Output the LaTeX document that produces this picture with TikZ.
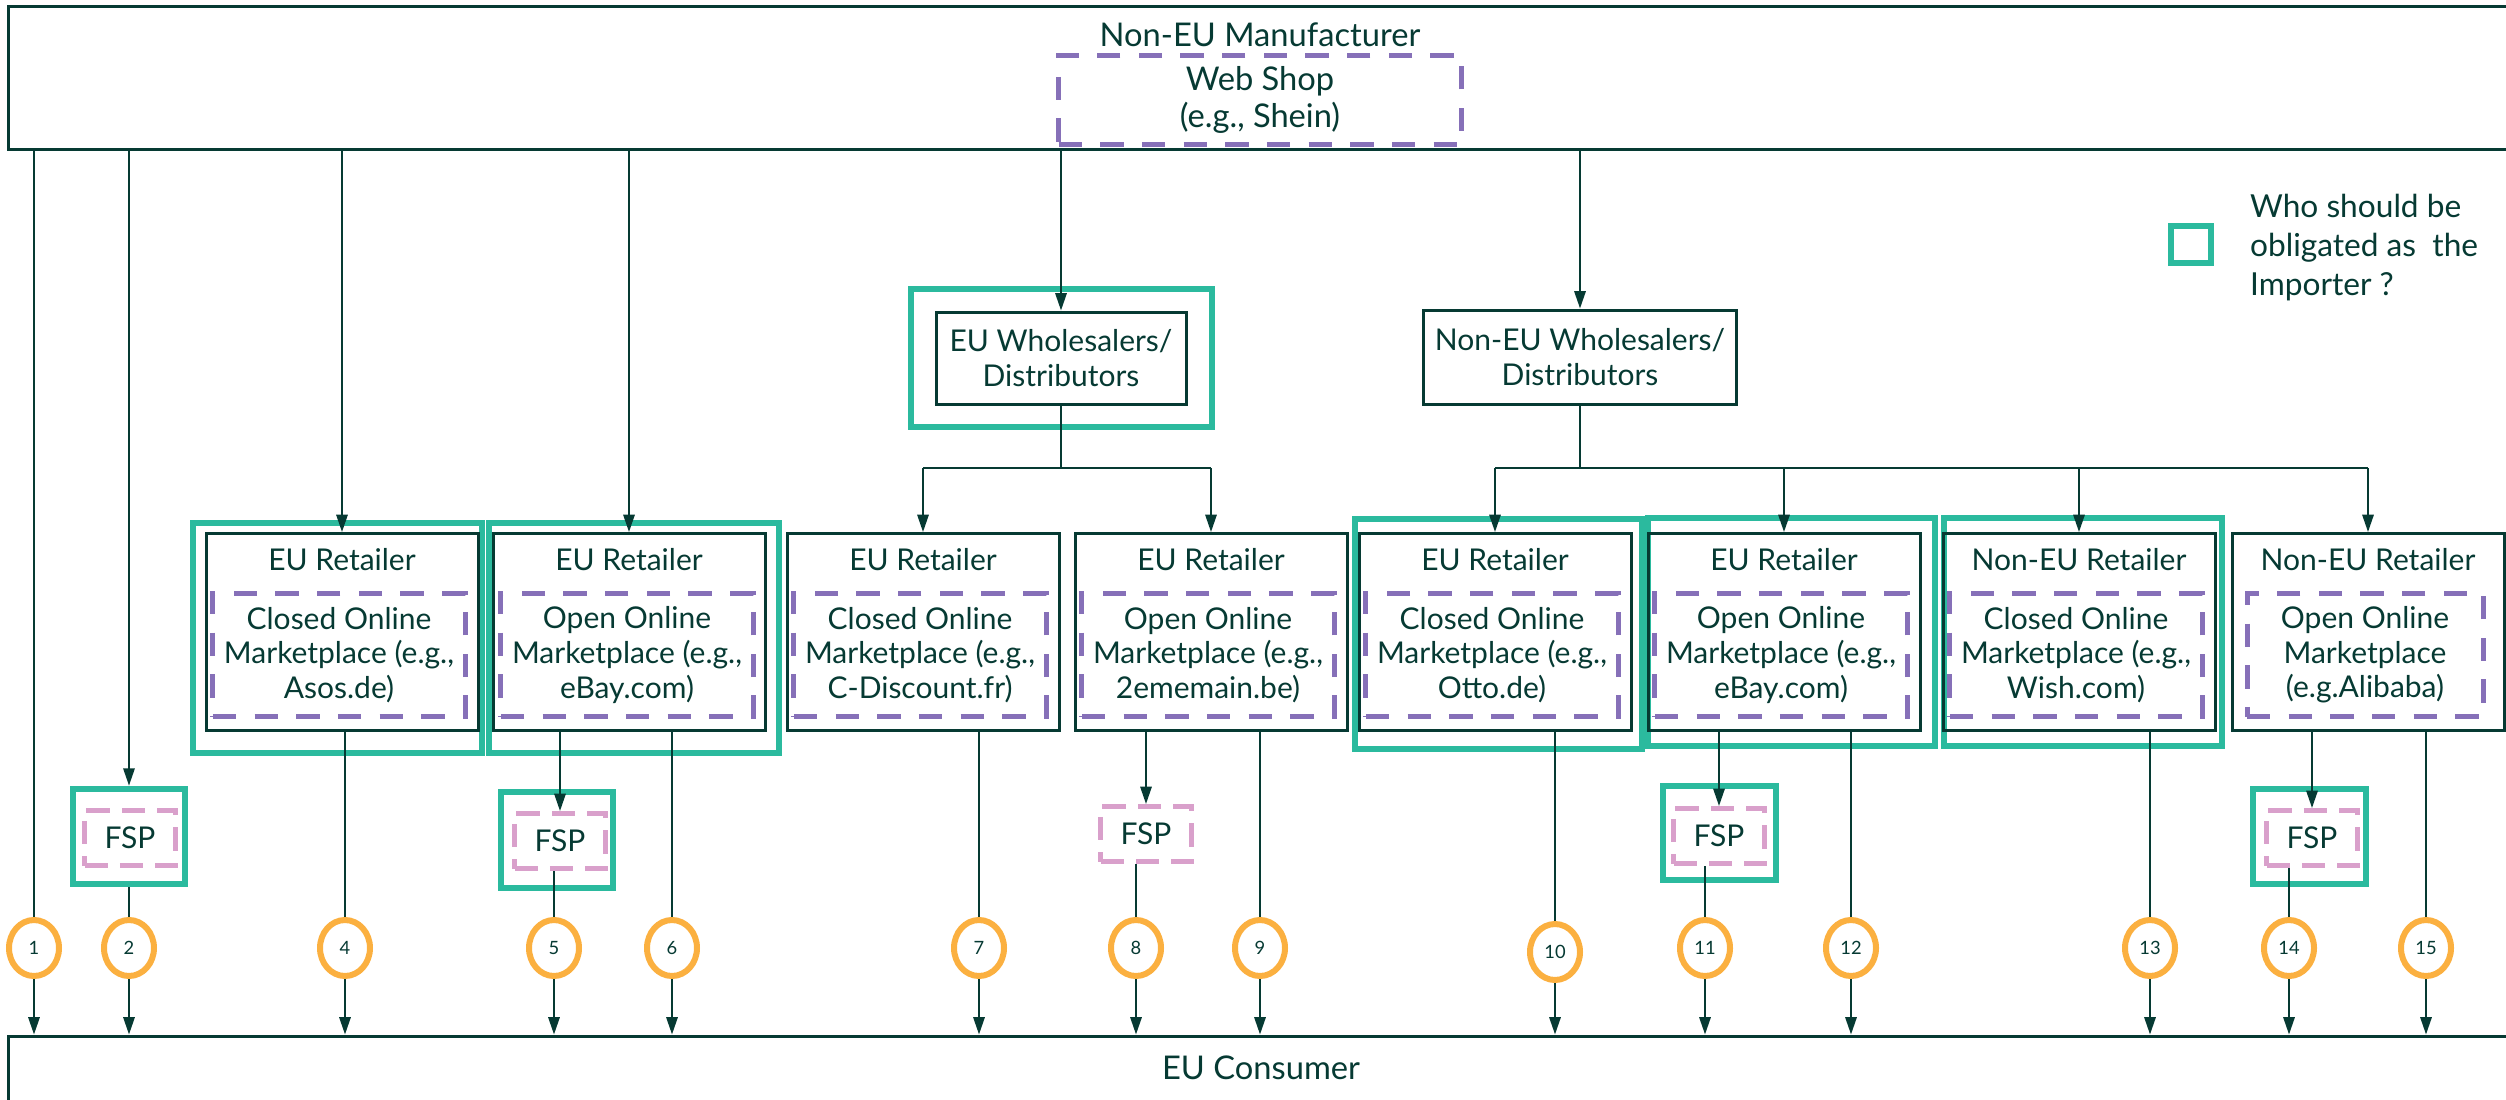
\documentclass[tikz,border=0pt]{standalone}
\usepackage{fontspec}
\setmainfont{Lato}
\usetikzlibrary{arrows.meta,shapes.geometric}

\definecolor{dkteal}{HTML}{063A33}
\definecolor{impgreen}{HTML}{2BBA9E}
\definecolor{mpurple}{HTML}{8670B8}
\definecolor{fpink}{HTML}{D9A0CB}
\definecolor{norange}{HTML}{FBB040}

\tikzset{every picture/.style={line width=0.6pt}}
\tikzset{
  arr/.style={-{Triangle[length=5.2pt,width=3.4pt]}},
  frame/.style={draw=dkteal, line width=0.9pt},
  retail/.style={draw=dkteal, line width=0.9pt, minimum width=81.6pt, minimum height=59.1pt},
  box/.style={draw=dkteal, line width=0.9pt, align=center, text=dkteal},
  txt/.style={text=dkteal, align=center},
  bigtxt/.style={txt, font=\fontsize{9.8}{11.1}\selectfont},
  mkt/.style={draw=mpurple, line width=1.5pt, dash pattern=on 7pt off 5.5pt, align=center, text=dkteal},
  mktbox/.style={mkt, minimum width=70.8pt, minimum height=36.9pt},
  fsp/.style={draw=fpink, line width=1.5pt, dash pattern=on 7pt off 3.6pt, text=dkteal, minimum width=27.3pt, minimum height=16.5pt, inner sep=0pt},
  imp/.style={draw=impgreen, line width=2pt, inner sep=0pt},
  num/.style={ellipse, draw=norange, fill=white, line width=1.8pt, minimum width=15pt, minimum height=16.8pt, inner sep=0pt, text=dkteal, font=\fontsize{5.5}{6}\selectfont}
}

\begin{document}
\begin{tikzpicture}[x=0.3pt,y=0.3pt,yscale=-1,xscale=1,draw=dkteal,font=\fontsize{9}{10.4}\selectfont]
\useasboundingbox (0,0) rectangle (2506,1100);
\clip (0,0) rectangle (2506,1100);

%Shape: Rectangle [manufacturer]
\node[frame, minimum width=756.6pt, minimum height=42.9pt] (mfr) at (1269,77.5) {};
% Text Node
\node[bigtxt] (mfr-t) at (1260,35) {Non-EU Manufacturer};
%Shape: Rectangle [web shop]
\node[mkt, minimum width=120.9pt, minimum height=26.7pt, font=\fontsize{9.8}{11.1}\selectfont] (shop) at (1260,100) {Web Shop\\(e.g., Shein)};

%Shape: Rectangle [consumer]
\node[frame, minimum width=756.6pt, minimum height=30pt] (cons) at (1269,1086) {};
% Text Node
\node[bigtxt] (cons-t) at (1261,1068) {EU Consumer};

%Shape: Rectangle [legend]
\node[imp, minimum width=12pt, minimum height=11.1pt] (leg) at (2191,244.5) {};
% Text Node
\node[txt, anchor=west, align=left, font=\fontsize{9.5}{11.7}\selectfont] (leg-t) at (2238,248) {Who should be\\obligated as\ \ the\\Importer ?};

%Shape: Rectangle [wholesalers]
\node[imp, minimum width=90.3pt, minimum height=41.4pt] (gw) at (1061.5,358) {};
\node[box, minimum width=75pt, minimum height=27.6pt] (ew) at (1061,358) {EU Wholesalers/\\Distributors};
\node[box, minimum width=93pt, minimum height=28.2pt] (nw) at (1580,357) {Non-EU Wholesalers/\\Distributors};

%Shape: Rectangle [importer frames]
\node[imp, minimum width=86.7pt, minimum height=69pt] (g1) at (337.5,638) {};
\node[imp, minimum width=87pt, minimum height=69pt] (g2) at (634,638) {};
\node[imp, minimum width=86.1pt, minimum height=69pt] (g5) at (1498.5,634) {};
\node[imp, minimum width=86.1pt, minimum height=68.4pt] (g6) at (1791.5,632) {};
\node[imp, minimum width=83.4pt, minimum height=68.4pt] (g7) at (2083,632) {};

%Shape: Rectangle [retailers]
\node[retail] (r1) at (342,632) {};
\node[txt] (r1-t) at (342,560) {EU Retailer};
\node[mktbox] (m1) at (339,655) {Closed Online\\Marketplace (e.g.,\\Asos.de)};

\node[retail] (r2) at (629,632) {};
\node[txt] (r2-t) at (629,560) {EU Retailer};
\node[mktbox] (m2) at (627,655) {Open Online\\Marketplace (e.g.,\\eBay.com)};

\node[retail] (r3) at (923,632) {};
\node[txt] (r3-t) at (923,560) {EU Retailer};
\node[mktbox] (m3) at (920,655) {Closed Online\\Marketplace (e.g.,\\C-Discount.fr)};

\node[retail] (r4) at (1211,632) {};
\node[txt] (r4-t) at (1211,560) {EU Retailer};
\node[mktbox] (m4) at (1208,655) {Open Online\\Marketplace (e.g.,\\2ememain.be)};

\node[retail] (r5) at (1495,632) {};
\node[txt] (r5-t) at (1495,560) {EU Retailer};
\node[mktbox] (m5) at (1492,655) {Closed Online\\Marketplace (e.g.,\\Otto.de)};

\node[retail] (r6) at (1784,632) {};
\node[txt] (r6-t) at (1784,560) {EU Retailer};
\node[mktbox] (m6) at (1781,655) {Open Online\\Marketplace (e.g.,\\eBay.com)};

\node[retail] (r7) at (2079,632) {};
\node[txt] (r7-t) at (2079,560) {Non-EU Retailer};
\node[mktbox] (m7) at (2076,655) {Closed Online\\Marketplace (e.g.,\\Wish.com)};

\node[retail] (r8) at (2368,632) {};
\node[txt] (r8-t) at (2368,560) {Non-EU Retailer};
\node[mktbox] (m8) at (2365,655) {Open Online\\Marketplace\\(e.g.Alibaba)};

%Shape: Rectangle [fsp]
\node[imp, minimum width=33.6pt, minimum height=28.5pt] (f2) at (129,836.5) {};
\node[fsp] (p2) at (130,838) {FSP};
\node[imp, minimum width=33.6pt, minimum height=28.8pt] (f5) at (557,840) {};
\node[fsp] (p5) at (560,841) {FSP};
\node[fsp] (p8) at (1146,834) {FSP};
\node[imp, minimum width=33.9pt, minimum height=28.2pt] (f11) at (1719.5,833) {};
\node[fsp] (p11) at (1719,836) {FSP};
\node[imp, minimum width=33.9pt, minimum height=28.5pt] (f14) at (2309.5,836.5) {};
\node[fsp] (p14) at (2312,838) {FSP};

%Shape: Ellipse [channels]
\node[num] (c1) at (34,948) {1};
\node[num] (c2) at (129,948) {2};
\node[num] (c4) at (345,948) {4};
\node[num] (c5) at (554,948) {5};
\node[num] (c6) at (672,948) {6};
\node[num] (c7) at (979,948) {7};
\node[num] (c8) at (1136,948) {8};
\node[num] (c9) at (1260,948) {9};
\node[num] (c10) at (1555,952) {10};
\node[num] (c11) at (1705,948) {11};
\node[num] (c12) at (1851,948) {12};
\node[num] (c13) at (2150,948) {13};
\node[num] (c14) at (2289,948) {14};
\node[num] (c15) at (2426,948) {15};

%Straight Lines [from manufacturer]
\draw (c1 |- mfr.south) -- (c1.north);
\draw[arr] (f2 |- mfr.south) -- (f2.north);
\draw (f2.south) -- (c2.north);
\draw[arr] (r1.north |- mfr.south) -- (r1.north);
\draw[arr] (r2.north |- mfr.south) -- (r2.north);
\draw[arr] (ew.north |- mfr.south) -- (ew.north);
\draw[arr] (nw.north |- mfr.south) -- (nw.north);

%Straight Lines [wholesalers]
\coordinate (ewbus) at (1061,468);
\draw (ew.south) -- (ewbus);
\draw (r3.north |- ewbus) -- (r4.north |- ewbus);
\draw[arr] (r3.north |- ewbus) -- (r3.north);
\draw[arr] (r4.north |- ewbus) -- (r4.north);
\coordinate (nwbus) at (1580,468);
\draw (nw.south) -- (nwbus);
\draw (r5.north |- nwbus) -- (r8.north |- nwbus);
\draw[arr] (r5.north |- nwbus) -- (r5.north);
\draw[arr] (r6.north |- nwbus) -- (r6.north);
\draw[arr] (r7.north |- nwbus) -- (r7.north);
\draw[arr] (r8.north |- nwbus) -- (r8.north);

%Straight Lines [retailers]
\draw (r1.south -| c4) -- (c4.north);
\draw[arr] (r2.south -| p5) -- (p5.north);
\draw (p5.south -| c5) -- (c5.north);
\draw (r2.south -| c6) -- (c6.north);
\draw (r3.south -| c7) -- (c7.north);
\draw[arr] (r4.south -| p8) -- (p8.north);
\draw (p8.south -| c8) -- (c8.north);
\draw (r4.south -| c9) -- (c9.north);
\draw (r5.south -| c10) -- (c10.north);
\draw[arr] (r6.south -| p11) -- (p11.north);
\draw (p11.south -| c11) -- (c11.north);
\draw (r6.south -| c12) -- (c12.north);
\draw (r7.south -| c13) -- (c13.north);
\draw[arr] (r8.south -| p14) -- (p14.north);
\draw (p14.south -| c14) -- (c14.north);
\draw (r8.south -| c15) -- (c15.north);

%Straight Lines [to consumer]
\draw[arr] (c1.south) -- (c1 |- cons.north);
\draw[arr] (c2.south) -- (c2 |- cons.north);
\draw[arr] (c4.south) -- (c4 |- cons.north);
\draw[arr] (c5.south) -- (c5 |- cons.north);
\draw[arr] (c6.south) -- (c6 |- cons.north);
\draw[arr] (c7.south) -- (c7 |- cons.north);
\draw[arr] (c8.south) -- (c8 |- cons.north);
\draw[arr] (c9.south) -- (c9 |- cons.north);
\draw[arr] (c10.south) -- (c10 |- cons.north);
\draw[arr] (c11.south) -- (c11 |- cons.north);
\draw[arr] (c12.south) -- (c12 |- cons.north);
\draw[arr] (c13.south) -- (c13 |- cons.north);
\draw[arr] (c14.south) -- (c14 |- cons.north);
\draw[arr] (c15.south) -- (c15 |- cons.north);

\end{tikzpicture}
\end{document}
